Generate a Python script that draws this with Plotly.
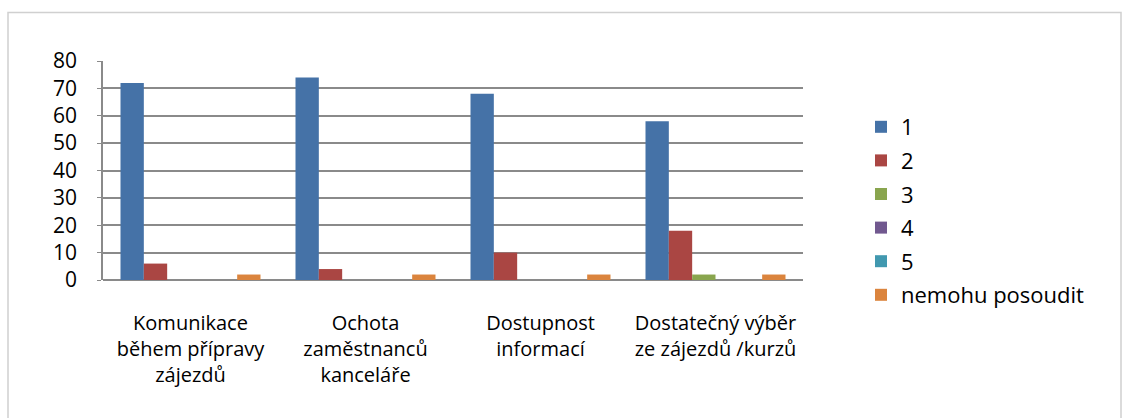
import plotly.graph_objects as go

categories = [
    "Komunikace<br>během přípravy<br>zájezdů",
    "Ochota<br>zaměstnanců<br>kanceláře",
    "Dostupnost<br>informací",
    "Dostatečný výběr<br>ze zájezdů /kurzů",
]
series_names = ["1", "2", "3", "4", "5", "nemohu posoudit"]
s1 = [72, 74, 68, 58]
s2 = [6, 4, 10, 18]
s3 = [0, 0, 0, 2]
s4 = [0, 0, 0, 0]
s5 = [0, 0, 0, 0]
s_nemohu = [2, 2, 2, 2]
colors = ["#4572A7", "#AA4643", "#89A54E", "#71588F", "#4198AF", "#DB843D"]
y_ticks = [0, 10, 20, 30, 40, 50, 60, 70, 80]

FONT = "'Open Sans', 'Noto Sans', sans-serif"
W, H = 1122, 418
L, R, T, B = 103, 319, 61, 138
pw, ph = W - L - R, H - T - B

fig = go.Figure()
for name, vals, col in zip(series_names, [s1, s2, s3, s4, s5, s_nemohu], colors):
    fig.add_trace(go.Bar(name=name, x=categories, y=vals, legendgroup=name,
                         marker=dict(color=col, line=dict(width=0))))


def px_x(px):
    return (px - L) / pw


def px_y(py):
    return (H - B - py) / ph


fig.update_layout(
    width=W, height=H,
    margin=dict(l=L, r=R, t=T, b=B, pad=0),
    paper_bgcolor="white", plot_bgcolor="white",
    barmode="group", bargap=0.2, bargroupgap=0,
    font=dict(family=FONT, size=20, color="#000000"),
    showlegend=True,
    legend=dict(
        x=px_x(861), y=px_y(106), xanchor="left", yanchor="top",
        font=dict(family=FONT, size=22, color="#000000"),
        bgcolor="rgba(0,0,0,0)", traceorder="grouped",
        itemwidth=30, tracegroupgap=2,
    ),
    xaxis=dict(
        showgrid=False, showline=False, ticks="", zeroline=False,
        tickfont=dict(family=FONT, size=20), ticklabelstandoff=29,
    ),
    yaxis=dict(
        range=[0, 80], tickvals=y_ticks, showgrid=True, gridcolor="#8a8a8a", gridwidth=1.5,
        showline=True, linecolor="#8a8a8a", linewidth=1.5,
        ticks="outside", ticklen=4, tickcolor="#8a8a8a", zeroline=True, zerolinecolor="#8a8a8a",
        zerolinewidth=1.5, tickfont=dict(family=FONT, size=21), ticklabelstandoff=16,
    ),
    shapes=[
        dict(type="rect", xref="paper", yref="paper",
             x0=px_x(8), x1=px_x(1121), y0=px_y(440), y1=px_y(12.5),
             line=dict(color="#d0d0d0", width=1.5), fillcolor="rgba(0,0,0,0)", layer="below"),
    ],
)

fig.write_html("out.html")
